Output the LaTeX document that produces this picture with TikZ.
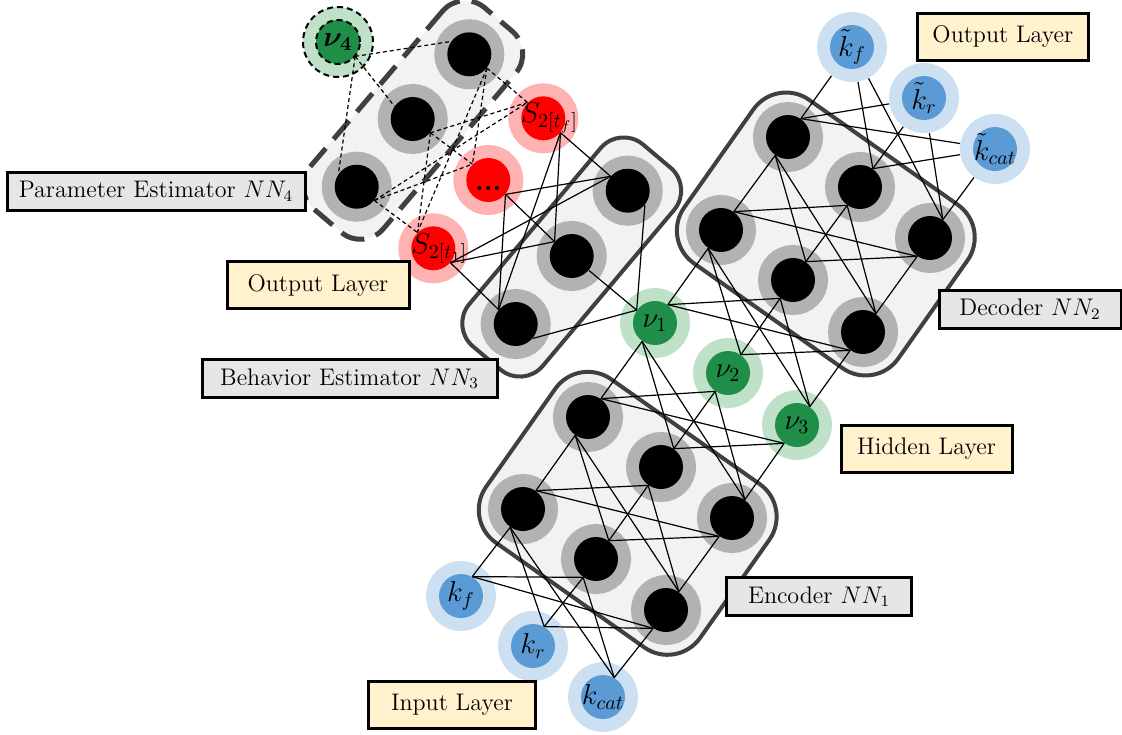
\documentclass[tikz,border=0pt]{standalone}
\usepackage{amsmath}
\usepackage{bm}
\usepackage{tikz}
\usetikzlibrary{positioning}

\definecolor{netfill}{RGB}{242,242,242}
\definecolor{netline}{RGB}{64,64,64}
\definecolor{ringgray}{RGB}{178,178,178}
\definecolor{nugreen}{RGB}{30,142,72}
\definecolor{nuring}{RGB}{190,225,200}
\definecolor{kblue}{RGB}{91,155,213}
\definecolor{kring}{RGB}{204,224,242}
\definecolor{sred}{RGB}{255,0,0}
\definecolor{sring}{RGB}{255,178,178}
\definecolor{tagfill}{RGB}{231,230,230}
\definecolor{layerfill}{RGB}{255,242,204}

\tikzset{
  unit/.style 2 args={circle, inner sep=0pt, minimum size=22pt, fill=#1,
    preaction={draw=#2, line width=13pt}},
  neuron/.style={unit={black}{ringgray}},
  latent/.style={unit={nugreen}{nuring}},
  feature/.style={unit={kblue}{kring}},
  estim/.style={unit={sred}{sring}},
  netbox/.style={draw=netline, line width=2pt, fill=netfill, inner sep=0pt},
  tag/.style={draw=black, line width=1.5pt, fill=tagfill, inner sep=0pt,
    minimum height=19pt, font=\fontsize{12}{14}\selectfont},
  layertag/.style={tag, fill=layerfill, minimum height=23.5pt},
  link/.style={line width=0.6pt},
  dlink/.style={link, dash pattern=on 2pt off 1.5pt}
}

\begin{document}
\begin{tikzpicture}[x=0.5pt, y=-0.5pt, font=\fontsize{14}{16}\selectfont]
  \useasboundingbox (0,0) rectangle (1122,734);

  %% frames of the four networks
  \node (encbox) [netbox, rounded corners=20pt, minimum width=131pt, minimum height=100pt, rotate=-35.2] at (627.7,513.3) {};
  \node (decbox) [netbox, rounded corners=20pt, minimum width=131pt, minimum height=100pt, rotate=-35.2] at (825.8,234) {};
  \node (behbox) [netbox, rounded corners=15pt, minimum width=132pt, minimum height=48pt, rotate=49.9] at (571.7,257) {};
  \node (parbox) [netbox, rounded corners=15pt, minimum width=132pt, minimum height=48pt, rotate=49.6, line width=2.5pt, dash pattern=on 12pt off 6pt] at (412.9,120) {};

  %% input layer
  \node (kf) [feature, label=center:$k_f$] at (461,596) {};
  \node (kr) [feature, label=center:$k_r$] at (533,646) {};
  \node (kc) [feature, label=center:$k_{cat}$] at (603,697) {};

  %% encoder NN1
  \node (e11) [neuron] at (588,417) {};
  \node (e12) [neuron] at (661,467) {};
  \node (e13) [neuron] at (732,518) {};
  \node (e21) [neuron] at (523,509) {};
  \node (e22) [neuron] at (596,559) {};
  \node (e23) [neuron] at (666,610) {};

  %% hidden layer
  \node (v1) [latent, label=center:$\nu_1$] at (655,323) {};
  \node (v2) [latent, label=center:$\nu_2$] at (728,373) {};
  \node (v3) [latent, label=center:$\nu_3$] at (797,425) {};
  \node (v4) [latent, label=center:$\bm{\nu_4}$] at (338,42) {};
  \draw[dash pattern=on 3pt off 2pt, line width=1pt] (v4) circle[radius=11pt];
  \draw[dash pattern=on 3pt off 2pt, line width=1pt] (v4) circle[radius=17.5pt];

  %% decoder NN2
  \node (d11) [neuron] at (788,137) {};
  \node (d12) [neuron] at (860,187) {};
  \node (d13) [neuron] at (930,238) {};
  \node (d21) [neuron] at (721,230) {};
  \node (d22) [neuron] at (793,280) {};
  \node (d23) [neuron] at (863,332) {};

  %% output layer of the decoder
  \node (kft) [feature, label=center:$\tilde{k}_f$] at (852,47) {};
  \node (krt) [feature, label=center:$\tilde{k}_r$] at (924,98) {};
  \node (kct) [feature, label=center:$\tilde{k}_{cat}$] at (995,149) {};

  %% behavior estimator NN3
  \node (b1) [neuron] at (627.7,190.7) {};
  \node (b2) [neuron] at (571.7,256) {};
  \node (b3) [neuron] at (515.7,324) {};

  %% output layer of NN3
  \node (s1) [estim, label={[xshift=3pt]center:$S_{2[t_f]}$}] at (543.3,118.3) {};
  \node (s2) [estim, label={[yshift=-4pt]center:\textbf{...}}] at (488.3,180) {};
  \node (s3) [estim, label={[xshift=3pt]center:$S_{2[t_1]}$}] at (433.3,248.3) {};

  %% parameter estimator NN4
  \node (p1) [neuron] at (469.3,54.3) {};
  \node (p2) [neuron] at (412.7,119) {};
  \node (p3) [neuron] at (356.7,186.7) {};

  %% connections
  \foreach \a in {kf,kr,kc}
    \foreach \b in {e21,e22,e23}
      \draw[link] (\a.60) -- (\b.235);
  \foreach \a in {e21,e22,e23}
    \foreach \b in {e11,e12,e13}
      \draw[link] (\a.55) -- (\b.235);
  \foreach \a in {e11,e12,e13}
    \foreach \b in {v1,v2,v3}
      \draw[link] (\a.55) -- (\b.235);
  \foreach \a in {v1,v2,v3}
    \foreach \b in {d21,d22,d23}
      \draw[link] (\a.55) -- (\b.235);
  \foreach \a in {d21,d22,d23}
    \foreach \b in {d11,d12,d13}
      \draw[link] (\a.55) -- (\b.235);
  \foreach \a in {d11,d12,d13}
    \foreach \b in {kft,krt,kct}
      \draw[link, shorten >=6.5pt] (\a.55) -- (\b);
  \foreach \a in {b1,b2,b3}
    \draw[link] (\a.-40) -- (v1.145);
  \foreach \a in {s1,s2,s3}
    \foreach \b in {b1,b2,b3}
      \draw[link] (\a.-40) -- (\b.140);
  \foreach \b in {p1,p2,p3}
    \draw[dlink] (v4.-40) -- (\b.145);
  \foreach \a in {p1,p2,p3}
    \foreach \b in {s1,s2,s3}
      \draw[dlink] (\a.-38) -- (\b.135);

  %% labels
  \node (tagpar) [tag, minimum width=149pt] at (156,191) {Parameter Estimator $NN_4$};
  \node (tagbeh) [tag, minimum width=147.5pt] at (349.5,378.5) {Behavior Estimator $NN_3$};
  \node (tagdec) [tag, minimum width=91pt] at (1030,309) {Decoder $NN_2$};
  \node (tagenc) [tag, minimum width=92.5pt] at (819,596.7) {Encoder $NN_1$};
  \node (tagsout) [layertag, minimum width=91pt] at (318,285) {Output Layer};
  \node (tagkout) [layertag, minimum width=85.5pt] at (1002.8,36.8) {Output Layer};
  \node (taghid) [layertag, minimum width=85.5pt] at (926.5,448.5) {Hidden Layer};
  \node (tagin) [layertag, minimum width=83.5pt] at (452,704.5) {Input Layer};
\end{tikzpicture}
\end{document}
